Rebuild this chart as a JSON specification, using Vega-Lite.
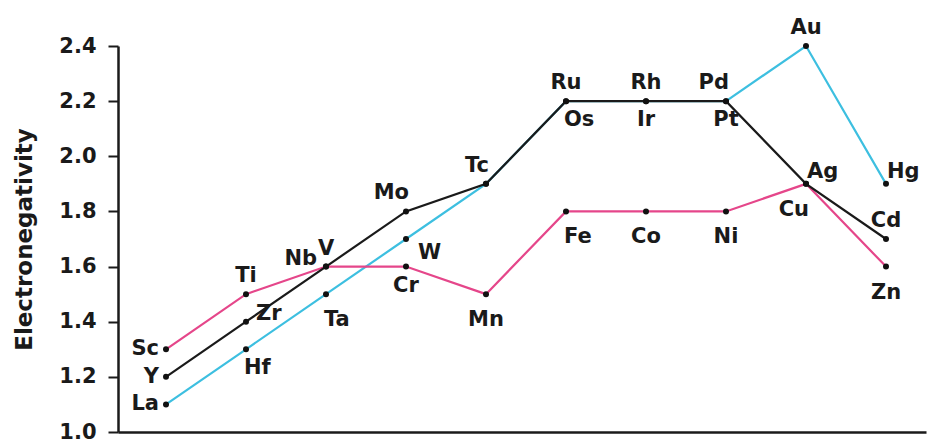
{
  "$schema": "https://vega.github.io/schema/vega-lite/v6.json",
  "width": 808,
  "height": 386,
  "autosize": "none",
  "padding": {"left": 118, "top": 46, "right": 2, "bottom": 7},
  "background": "white",
  "config": {
    "view": {"stroke": null},
    "font": "DejaVu Sans",
    "text": {"font": "DejaVu Sans", "fontWeight": "bold", "fontSize": 21, "color": "#1a1a1a"}
  },
  "data": {
    "values": [
      {"element": "La", "group": 1, "en": 1.1, "row": "5d", "side": "left"},
      {"element": "Hf", "group": 2, "en": 1.3, "row": "5d", "side": "belowrightclose"},
      {"element": "Ta", "group": 3, "en": 1.5, "row": "5d", "side": "belowright"},
      {"element": "W", "group": 4, "en": 1.7, "row": "5d", "side": "rightdown"},
      {"element": "Re", "group": 5, "en": 1.9, "row": "5d", "side": "none"},
      {"element": "Os", "group": 6, "en": 2.2, "row": "5d", "side": "belowrightclose"},
      {"element": "Ir", "group": 7, "en": 2.2, "row": "5d", "side": "belowclose"},
      {"element": "Pt", "group": 8, "en": 2.2, "row": "5d", "side": "belowclose"},
      {"element": "Au", "group": 9, "en": 2.4, "row": "5d", "side": "above"},
      {"element": "Hg", "group": 10, "en": 1.9, "row": "5d", "side": "aboveright"},
      {"element": "Sc", "group": 1, "en": 1.3, "row": "3d", "side": "left"},
      {"element": "Ti", "group": 2, "en": 1.5, "row": "3d", "side": "above"},
      {"element": "V", "group": 3, "en": 1.6, "row": "3d", "side": "above"},
      {"element": "Cr", "group": 4, "en": 1.6, "row": "3d", "side": "belowclose"},
      {"element": "Mn", "group": 5, "en": 1.5, "row": "3d", "side": "below"},
      {"element": "Fe", "group": 6, "en": 1.8, "row": "3d", "side": "belowright"},
      {"element": "Co", "group": 7, "en": 1.8, "row": "3d", "side": "below"},
      {"element": "Ni", "group": 8, "en": 1.8, "row": "3d", "side": "below"},
      {"element": "Cu", "group": 9, "en": 1.9, "row": "3d", "side": "belowleft"},
      {"element": "Zn", "group": 10, "en": 1.6, "row": "3d", "side": "below"},
      {"element": "Y", "group": 1, "en": 1.2, "row": "4d", "side": "left"},
      {"element": "Zr", "group": 2, "en": 1.4, "row": "4d", "side": "rightup"},
      {"element": "Nb", "group": 3, "en": 1.6, "row": "4d", "side": "leftup"},
      {"element": "Mo", "group": 4, "en": 1.8, "row": "4d", "side": "aboveleft"},
      {"element": "Tc", "group": 5, "en": 1.9, "row": "4d", "side": "aboveleft"},
      {"element": "Ru", "group": 6, "en": 2.2, "row": "4d", "side": "above"},
      {"element": "Rh", "group": 7, "en": 2.2, "row": "4d", "side": "above"},
      {"element": "Pd", "group": 8, "en": 2.2, "row": "4d", "side": "aboveleft"},
      {"element": "Ag", "group": 9, "en": 1.9, "row": "4d", "side": "aboveright"},
      {"element": "Cd", "group": 10, "en": 1.7, "row": "4d", "side": "above"}
    ]
  },
  "encoding": {
    "x": {
      "field": "group",
      "type": "quantitative",
      "scale": {"domain": [0.4, 10.5], "nice": false, "zero": false},
      "axis": {
        "title": null, "labels": false, "ticks": false, "grid": false,
        "domainColor": "#1a1a1a", "domainWidth": 2.5
      }
    },
    "y": {
      "field": "en",
      "type": "quantitative",
      "scale": {"domain": [1.0, 2.4], "nice": false, "zero": false},
      "axis": {
        "title": "Electronegativity",
        "values": [1.0, 1.2, 1.4, 1.6, 1.8, 2.0, 2.2, 2.4],
        "format": ".1f",
        "grid": false,
        "domainColor": "#1a1a1a", "domainWidth": 2.5,
        "tickColor": "#1a1a1a", "tickWidth": 2, "tickSize": 10,
        "labelFont": "DejaVu Sans", "labelFontWeight": "bold", "labelFontSize": 21,
        "labelColor": "#1a1a1a", "labelPadding": 12,
        "titleFont": "DejaVu Sans", "titleFontWeight": "bold", "titleFontSize": 23,
        "titleColor": "#1a1a1a", "titlePadding": 22
      }
    }
  },
  "layer": [
    {
      "mark": {"type": "line", "strokeWidth": 2.2},
      "encoding": {
        "color": {
          "field": "row", "type": "nominal", "sort": null,
          "scale": {"domain": ["5d", "3d", "4d"], "range": ["#3dbfe0", "#e5468a", "#1a1a1a"]},
          "legend": null
        },
        "order": {"field": "group", "type": "quantitative"}
      }
    },
    {
      "mark": {"type": "point", "filled": true, "size": 36, "color": "#111111", "opacity": 1}
    },
    {
      "transform": [{"filter": {"field": "side", "equal": "left"}}],
      "mark": {"type": "text", "align": "right", "baseline": "middle", "dx": -7},
      "encoding": {"text": {"field": "element"}}
    },
    {
      "transform": [{"filter": {"field": "side", "equal": "leftup"}}],
      "mark": {"type": "text", "align": "right", "baseline": "middle", "dx": -9, "dy": -8},
      "encoding": {"text": {"field": "element"}}
    },
    {
      "transform": [{"filter": {"field": "side", "equal": "rightup"}}],
      "mark": {"type": "text", "align": "left", "baseline": "middle", "dx": 10, "dy": -8},
      "encoding": {"text": {"field": "element"}}
    },
    {
      "transform": [{"filter": {"field": "side", "equal": "above"}}],
      "mark": {"type": "text", "align": "center", "baseline": "alphabetic", "dy": -12},
      "encoding": {"text": {"field": "element"}}
    },
    {
      "transform": [{"filter": {"field": "side", "equal": "aboveleft"}}],
      "mark": {"type": "text", "align": "right", "baseline": "alphabetic", "dx": 3, "dy": -12},
      "encoding": {"text": {"field": "element"}}
    },
    {
      "transform": [{"filter": {"field": "side", "equal": "aboveright"}}],
      "mark": {"type": "text", "align": "left", "baseline": "alphabetic", "dx": 1, "dy": -6},
      "encoding": {"text": {"field": "element"}}
    },
    {
      "transform": [{"filter": {"field": "side", "equal": "below"}}],
      "mark": {"type": "text", "align": "center", "baseline": "top", "dy": 15},
      "encoding": {"text": {"field": "element"}}
    },
    {
      "transform": [{"filter": {"field": "side", "equal": "belowright"}}],
      "mark": {"type": "text", "align": "left", "baseline": "top", "dx": -2, "dy": 15},
      "encoding": {"text": {"field": "element"}}
    },
    {
      "transform": [{"filter": {"field": "side", "equal": "belowclose"}}],
      "mark": {"type": "text", "align": "center", "baseline": "top", "dy": 8},
      "encoding": {"text": {"field": "element"}}
    },
    {
      "transform": [{"filter": {"field": "side", "equal": "belowrightclose"}}],
      "mark": {"type": "text", "align": "left", "baseline": "top", "dx": -2, "dy": 8},
      "encoding": {"text": {"field": "element"}}
    },
    {
      "transform": [{"filter": {"field": "side", "equal": "rightdown"}}],
      "mark": {"type": "text", "align": "left", "baseline": "middle", "dx": 12, "dy": 14},
      "encoding": {"text": {"field": "element"}}
    },
    {
      "transform": [{"filter": {"field": "side", "equal": "belowleft"}}],
      "mark": {"type": "text", "align": "right", "baseline": "top", "dx": 3, "dy": 15},
      "encoding": {"text": {"field": "element"}}
    }
  ]
}
